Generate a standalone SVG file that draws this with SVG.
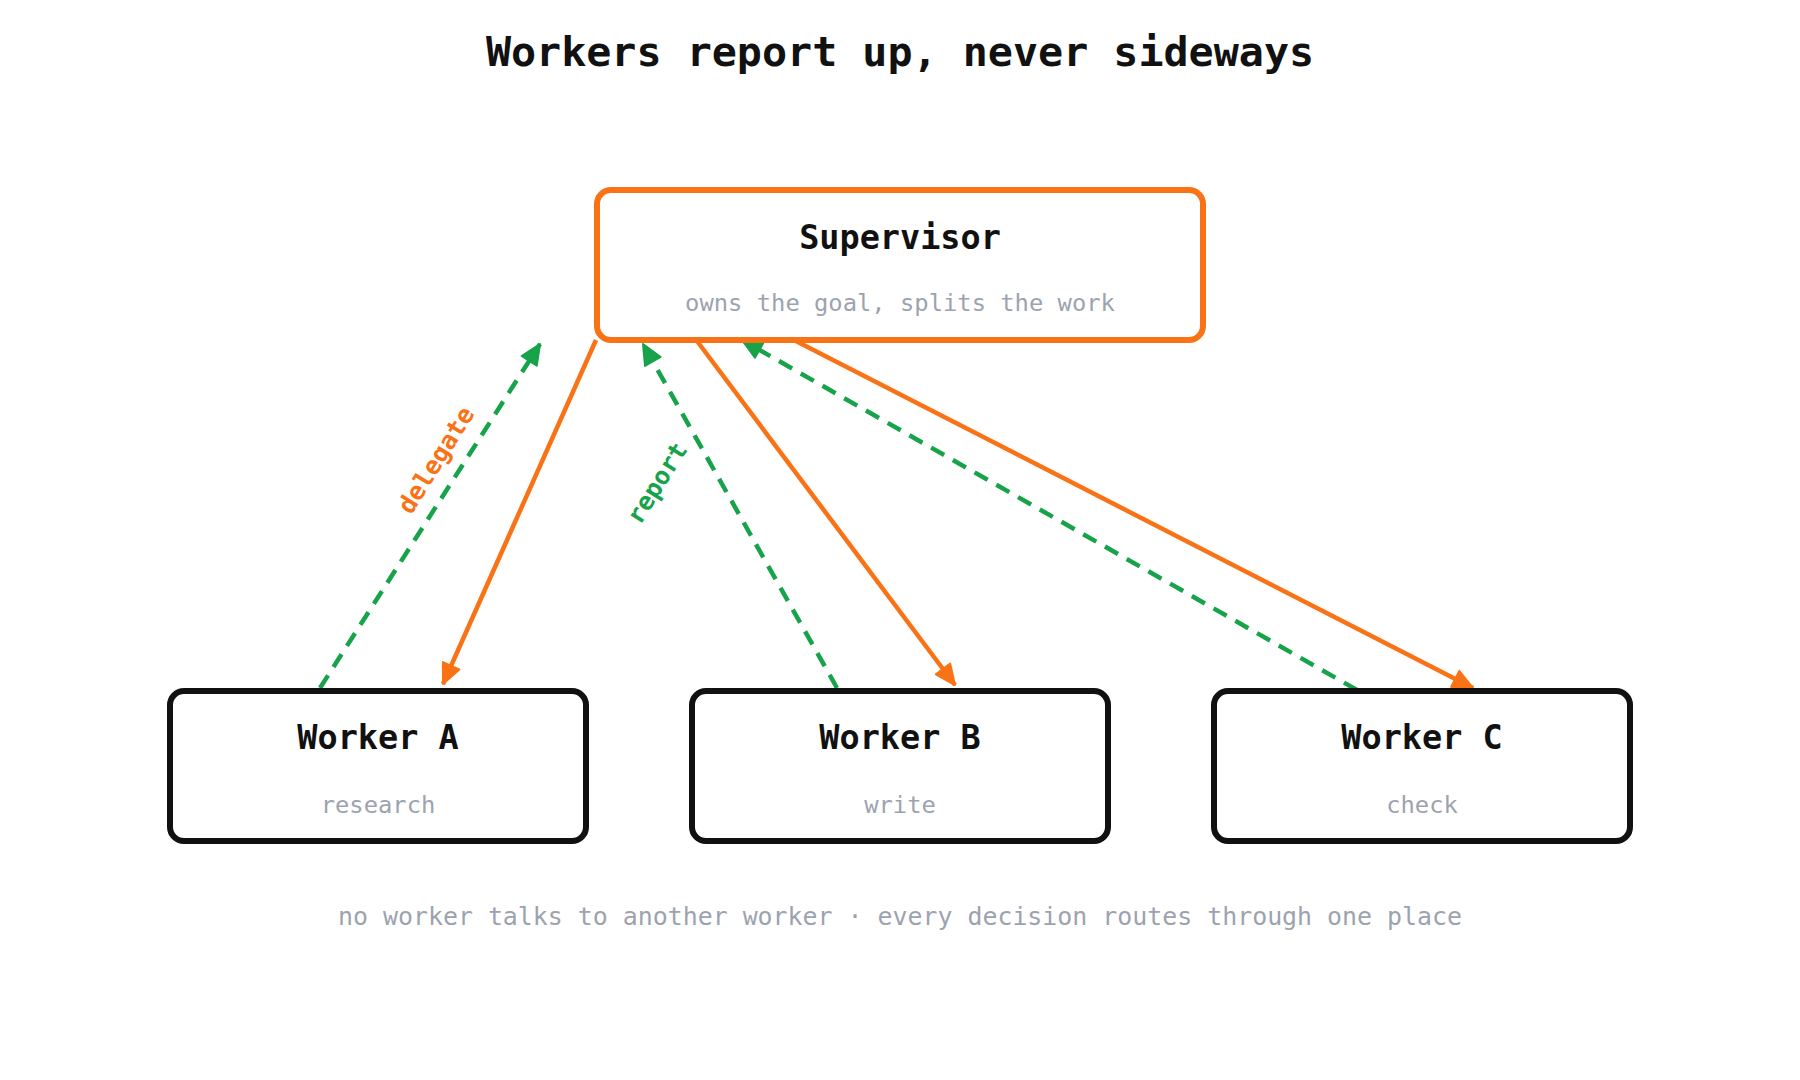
<svg xmlns="http://www.w3.org/2000/svg" width="1800" height="1080" viewBox="0 0 1800 1080">
<style>
.t{font-family:"DejaVu Sans Mono","Liberation Mono",monospace;}
.title{font-size:41.7px;font-weight:bold;fill:#111;}
.nt{font-size:33.5px;font-weight:bold;fill:#111;}
.ns{font-size:23.8px;fill:#9CA3AF;}
.foot{font-size:24.9px;fill:#9CA3AF;}
.sup{fill:#fff;stroke:#F97316;stroke-width:6;}
.wk{fill:#fff;stroke:#111;stroke-width:6;}
.del{stroke:#F97316;stroke-width:4.5;fill:none;}
.rep{stroke:#16A34A;stroke-width:4.5;fill:none;stroke-dasharray:15 10;}
.lbl{font-size:25px;font-weight:bold;}
</style>
<defs>
<marker id="ao" markerUnits="userSpaceOnUse" markerWidth="24" markerHeight="22" viewBox="0 0 24 22" refX="22" refY="11" orient="auto">
<path d="M2,2 L22,11 L2,20 Z" fill="#F97316" stroke="#F97316" stroke-width="2" stroke-linejoin="round"/>
</marker>
<marker id="ag" markerUnits="userSpaceOnUse" markerWidth="24" markerHeight="22" viewBox="0 0 24 22" refX="22" refY="11" orient="auto">
<path d="M2,2 L22,11 L2,20 Z" fill="#16A34A" stroke="#16A34A" stroke-width="2" stroke-linejoin="round"/>
</marker>
</defs>
<rect width="1800" height="1080" fill="#fff"/>
<text class="t title" x="900" y="66" text-anchor="middle">Workers report up, never sideways</text>
<g id="connectors">
<line class="del" x1="596" y1="340" x2="443" y2="684" marker-end="url(#ao)"/>
<line class="del" x1="697" y1="341" x2="955" y2="685" marker-end="url(#ao)"/>
<line class="del" x1="790" y1="338" x2="1473" y2="688" marker-end="url(#ao)"/>
<line class="rep" x1="320" y1="688" x2="540" y2="344" marker-end="url(#ag)"/>
<line class="rep" x1="837" y1="688" x2="643" y2="344" marker-end="url(#ag)"/>
<line class="rep" x1="1357" y1="690" x2="742" y2="340" marker-end="url(#ag)"/>
<text class="t lbl" x="436" y="460" fill="#F97316" text-anchor="middle" dominant-baseline="central" transform="rotate(-58 436 460)">delegate</text>
<text class="t lbl" x="657" y="483" fill="#16A34A" text-anchor="middle" dominant-baseline="central" transform="rotate(-58 657 483)">report</text>
</g>
<g id="supervisor">
<rect class="sup" x="597" y="190" width="606" height="150" rx="14"/>
<text class="t nt" x="900" y="249" text-anchor="middle">Supervisor</text>
<text class="t ns" x="900" y="311" text-anchor="middle">owns the goal, splits the work</text>
</g>
<g id="workerA">
<rect class="wk" x="170" y="691" width="416" height="150" rx="14"/>
<text class="t nt" x="378" y="749" text-anchor="middle">Worker A</text>
<text class="t ns" x="378" y="813" text-anchor="middle">research</text>
</g>
<g id="workerB">
<rect class="wk" x="692" y="691" width="416" height="150" rx="14"/>
<text class="t nt" x="900" y="749" text-anchor="middle">Worker B</text>
<text class="t ns" x="900" y="813" text-anchor="middle">write</text>
</g>
<g id="workerC">
<rect class="wk" x="1214" y="691" width="416" height="150" rx="14"/>
<text class="t nt" x="1422" y="749" text-anchor="middle">Worker C</text>
<text class="t ns" x="1422" y="813" text-anchor="middle">check</text>
</g>
<text class="t foot" x="900" y="925" text-anchor="middle">no worker talks to another worker · every decision routes through one place</text>
</svg>
